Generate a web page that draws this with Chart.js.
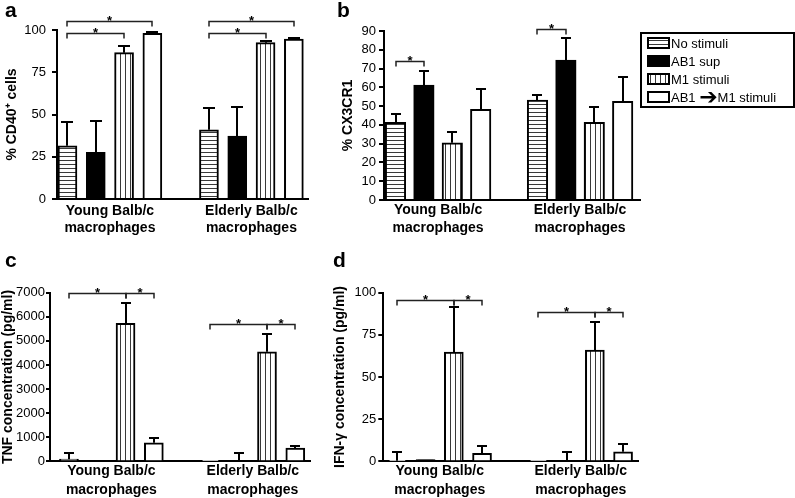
<!DOCTYPE html>
<html><head><meta charset="utf-8">
<script src="https://cdn.jsdelivr.net/npm/chart.js@4.4.0/dist/chart.umd.min.js"></script>
<style>
html,body{margin:0;padding:0;background:#fff;}
body{width:795px;height:498px;position:relative;overflow:hidden;}
canvas{position:absolute;display:block;}
.letter{position:absolute;font:bold 21px "Liberation Sans",Arial,sans-serif;color:#000;line-height:20px;}
</style></head><body>
<canvas id="ca" width="330" height="248" style="left:0;top:0"></canvas>
<canvas id="cb" width="465" height="248" style="left:330px;top:0"></canvas>
<canvas id="cc" width="330" height="248" style="left:0;top:250px"></canvas>
<canvas id="cd" width="465" height="248" style="left:330px;top:250px"></canvas>
<div class="letter" style="left:5px;top:0">a</div>
<div class="letter" style="left:337px;top:0">b</div>
<div class="letter" style="left:5px;top:250px">c</div>
<div class="letter" style="left:333px;top:250px">d</div>
<script>
// ---- data ----
const groupLabels = [['Young Balb/c','macrophages'],['Elderly Balb/c','macrophages']];
const treatments = ['No stimuli','AB1 sup','M1 stimuli','AB1 \u2794M1 stimuli'];

// a: % CD40+ cells
const cd40Young = [31.5, 27.6, 86.6, 98.0];
const cd40YoungSem = [14.0, 18.4, 4.1, 0.8];
const cd40Elderly = [41.0, 37.3, 92.5, 94.7];
const cd40ElderlySem = [12.8, 17.3, 0.8, 0.4];
const cd40Ticks = [0, 25, 50, 75, 100];
const cd40Sig = [[0,0,3,105.5],[0,0,2,98.4],[1,0,3,105.5],[1,0,2,98.4]];

// b: % CX3CR1
const cx3Young = [41.4, 61.2, 30.5, 48.3];
const cx3YoungSem = [4.6, 7.5, 5.9, 10.6];
const cx3Elderly = [53.2, 74.5, 41.4, 52.5];
const cx3ElderlySem = [2.5, 11.8, 8.3, 12.8];
const cx3Ticks = [0, 10, 20, 30, 40, 50, 60, 70, 80, 90];
const cx3Sig = [[0,0,1,73.9],[1,0,1,91.0]];

// c: TNF (pg/ml)
const tnfYoung = [90, 20, 5726, 772];
const tnfYoungSem = [250, 0, 830, 210];
const tnfElderly = [20, 20, 4548, 545];
const tnfElderlySem = [0, 330, 720, 100];
const tnfTicks = [0, 1000, 2000, 3000, 4000, 5000, 6000, 7000];
const tnfSig = [[0,0,2,7000],[0,2,3,7000],[1,0,2,5700],[1,2,3,5700]];

// d: IFN-gamma (pg/ml)
const ifnYoung = [0.3, 1.0, 64.8, 4.8];
const ifnYoungSem = [5.0, 0, 26.5, 4.0];
const ifnElderly = [0.2, 0.3, 66.0, 5.6];
const ifnElderlySem = [0, 5.0, 16.8, 4.7];
const ifnTicks = [0, 25, 50, 75, 100];
const ifnSig = [[0,0,2,95.6],[0,2,3,95.6],[1,0,2,88.7],[1,2,3,88.7]];

// ---- styles ----
const FONT = '"Liberation Sans", Arial, Helvetica, sans-serif';
Chart.defaults.font.family = FONT;
Chart.defaults.color = '#000';

function pattern(vertical){
  const c = document.createElement('canvas');
  const n = vertical ? 5 : 4;
  c.width = n; c.height = n;
  const x = c.getContext('2d');
  x.fillStyle = '#fff'; x.fillRect(0,0,n,n);
  x.fillStyle = '#3a3a3a';
  if (vertical) x.fillRect(0,0,1,n); else x.fillRect(0,0,n,1);
  return x.createPattern(c,'repeat');
}
const fills = [pattern(false), '#000', pattern(true), '#fff'];

function slotOf(g, t){ return g*(treatments.length+1) + t; }

const errPlugin = {
  id:'errs',
  afterDatasetsDraw(chart){
    const ctx = chart.ctx, ys = chart.scales.y;
    const cap = chart.$cap || 10;
    ctx.save();
    ctx.strokeStyle = '#000'; ctx.lineWidth = 2;
    chart.data.datasets.forEach((ds,i)=>{
      const meta = chart.getDatasetMeta(i);
      meta.data.forEach((el,j)=>{
        const e = ds.errors[j];
        if (!e) return;
        const v = ds.data[j].y;
        const yt = Math.round(ys.getPixelForValue(v+e));
        const yb = ys.getPixelForValue(v);
        const x = Math.round(el.x);
        ctx.beginPath();
        ctx.moveTo(x, yb); ctx.lineTo(x, yt);
        ctx.moveTo(x-cap/2, yt); ctx.lineTo(x+cap/2, yt);
        ctx.stroke();
      });
    });
    ctx.restore();
  }
};

function sigPlugin(sig){
  return {
    id:'sig',
    afterDraw(chart){
      const ctx = chart.ctx, xs = chart.scales.x, ys = chart.scales.y;
      ctx.save();
      ctx.strokeStyle = '#222'; ctx.lineWidth = 1.5;
      ctx.fillStyle = '#000'; ctx.font = 'bold 13px ' + FONT;
      ctx.textAlign = 'center'; ctx.textBaseline = 'alphabetic';
      sig.forEach(([g,a,b,lev])=>{
        const x1 = Math.round(xs.getPixelForValue(slotOf(g,a)));
        const x2 = Math.round(xs.getPixelForValue(slotOf(g,b)));
        const y = Math.round(ys.getPixelForValue(lev)) + 0.5;
        ctx.beginPath();
        ctx.moveTo(x1, y+5); ctx.lineTo(x1, y); ctx.lineTo(x2, y); ctx.lineTo(x2, y+5);
        ctx.stroke();
        ctx.fillText('*', (x1+x2)/2, y+3);
      });
      ctx.restore();
    }
  };
}

const legendPlugin = {
  id:'boxLegend',
  afterDraw(chart){
    const ctx = chart.ctx;
    ctx.save();
    ctx.strokeStyle = '#000'; ctx.lineWidth = 2;
    ctx.strokeRect(311, 33, 153, 74);
    const rows = [43, 61, 79, 97];
    chart.data.datasets.forEach((ds,i)=>{
      const cy = rows[i];
      ctx.fillStyle = ds.backgroundColor;
      ctx.fillRect(318, cy-5, 21, 10);
      ctx.lineWidth = 2; ctx.strokeStyle = '#000';
      ctx.strokeRect(318, cy-5, 21, 10);
      ctx.fillStyle = '#000';
      ctx.textBaseline = 'middle'; ctx.textAlign = 'left';
      const parts = ds.label.split('\u2794');
      let x = 341;
      ctx.font = '13px ' + FONT;
      ctx.fillText(parts[0], x, cy+1);
      if (parts.length > 1) {
        x += ctx.measureText(parts[0]).width;
        ctx.font = 'bold 22px "DejaVu Sans"';
        ctx.fillText('\u2794', x, cy+1);
        x += ctx.measureText('\u2794').width;
        ctx.font = '13px ' + FONT;
        ctx.fillText(parts[1], x, cy+1);
      }
    });
    ctx.restore();
  }
};

function makePanel(id, p){
  const datasets = treatments.map((t,i)=>({
    label: t,
    data: [{x: slotOf(0,i), y: p.young[i]}, {x: slotOf(1,i), y: p.elderly[i]}],
    errors: [p.youngSem[i], p.elderlySem[i]],
    backgroundColor: fills[i],
    borderColor: '#000',
    borderWidth: 2,
    barThickness: p.thickness,
    grouped: false
  }));
  const plugins = [errPlugin, sigPlugin(p.sig)];
  if (p.legend) plugins.push(legendPlugin);
  const ch = new Chart(document.getElementById(id), {
    type: 'bar',
    data: { datasets },
    plugins,
    options: {
      responsive: false, animation: false, events: [],
      layout: { padding: { left: 0, top: p.padTop, right: p.padRight, bottom: 0 } },
      plugins: { legend: { display: false }, tooltip: { enabled: false } },
      scales: {
        x: {
          type: 'linear', min: p.xMin, max: p.xMax, offset: false, bounds: 'data',
          afterBuildTicks: s => { s.ticks = groupLabels.map((_,g)=>({ value: (slotOf(g,0)+slotOf(g,treatments.length-1))/2 })); },
          ticks: {
            callback: (v, i) => groupLabels[i],
            font: { size: 14, weight: 'bold', lineHeight: p.labelLH },
            color: '#000', padding: p.labelPad, maxRotation: 0, autoSkip: false
          },
          grid: { display: false, drawTicks: false, offset: false },
          border: { color: '#000', width: 2 },
          afterFit: s => { s.height = p.xHeight; }
        },
        y: {
          min: 0, max: p.ticks[p.ticks.length-1],
          afterBuildTicks: s => { s.ticks = p.ticks.map(v => ({ value: v })); },
          ticks: { font: { size: 13 }, color: '#000', padding: p.tickPad, callback: v => String(v) },
          grid: { drawOnChartArea: false, drawTicks: true, tickLength: p.tickLen, color: '#000', lineWidth: 2 },
          border: { color: '#000', width: 2 },
          title: { display: true, text: p.title, color: '#000',
                   font: { size: 14, weight: 'bold', lineHeight: 1.2 }, padding: { top: p.titlePad, bottom: 0 } },
          afterFit: s => { s.width = p.yWidth; }
        }
      }
    }
  });
  ch.$cap = p.cap;
  ch.draw();
  return ch;
}

makePanel('ca', {
  young: cd40Young, youngSem: cd40YoungSem, elderly: cd40Elderly, elderlySem: cd40ElderlySem,
  ticks: cd40Ticks, sig: cd40Sig, title: '% CD40\u207A cells',
  thickness: 19, xMin: -0.37, xMax: 8.5, yWidth: 57, xHeight: 49, padTop: 30, padRight: 22,
  tickPad: 6, tickLen: 5, titlePad: 4, labelPad: 3, labelLH: 1.26, cap: 12
});
makePanel('cb', {
  young: cx3Young, youngSem: cx3YoungSem, elderly: cx3Elderly, elderlySem: cx3ElderlySem,
  ticks: cx3Ticks, sig: cx3Sig, title: '% CX3CR1',
  thickness: 20.5, xMin: -0.405, xMax: 8.61, yWidth: 54, xHeight: 48, padTop: 31, padRight: 155,
  tickPad: 3, tickLen: 5, titlePad: 9.5, labelPad: 1, labelLH: 1.3, cap: 10, legend: true
});
makePanel('cc', {
  young: tnfYoung, youngSem: tnfYoungSem, elderly: tnfElderly, elderlySem: tnfElderlySem,
  ticks: tnfTicks, sig: tnfSig, title: 'TNF concentration (pg/ml)',
  thickness: 19, xMin: -0.67, xMax: 8.52, yWidth: 50, xHeight: 36.7, padTop: 42.7, padRight: 20,
  tickPad: 1, tickLen: 4, titlePad: 0, labelPad: 0, labelLH: 1.36, cap: 10
});
makePanel('cd', {
  young: ifnYoung, youngSem: ifnYoungSem, elderly: ifnElderly, elderlySem: ifnElderlySem,
  ticks: ifnTicks, sig: ifnSig, title: 'IFN-\u03B3 concentration (pg/ml)',
  thickness: 19, xMin: -0.5, xMax: 8.54, yWidth: 53.3, xHeight: 36.7, padTop: 42.7, padRight: 156.7,
  tickPad: 2, tickLen: 5, titlePad: 1.6, labelPad: 0, labelLH: 1.36, cap: 10
});
</script>
</body></html>
